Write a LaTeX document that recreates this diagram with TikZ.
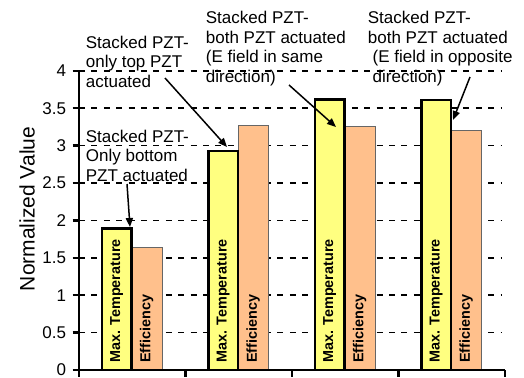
\documentclass[tikz,border=0pt]{standalone}
\usepackage{fontspec}
\setmainfont{Liberation Sans}
\usetikzlibrary{arrows.meta}

\definecolor{tempyellow}{RGB}{255,255,128}
\definecolor{efforange}{RGB}{255,192,140}

\begin{document}
\begin{tikzpicture}[
    x=0.5pt, y=0.5pt,
    >={Triangle[length=4.5pt,width=3.6pt]},
    gridline/.style={dash pattern=on 3pt off 3.2pt, line width=0.85pt},
    axisline/.style={line width=1.25pt},
    tempbar/.style={fill=tempyellow, draw=black, line width=1.3pt},
    effbar/.style={fill=efforange, draw=black!60, line width=0.5pt},
    barlabel/.style={rotate=90, anchor=west, inner sep=0pt, font=\fontsize{7.2}{8}\selectfont\bfseries},
    ticklabel/.style={anchor=east, inner sep=0pt, font=\fontsize{8.5}{10}\selectfont},
    note/.style={anchor=base west, inner sep=0pt, align=left, font=\fontsize{8.5}{9.75}\selectfont},
    pointer/.style={->, line width=0.75pt}
]
\useasboundingbox (0,0) rectangle (524,377);

% Diagrama: origen en (79,7), 1 unidad = 74.8 px en vertical
\begin{scope}[shift={(79,7)}, y=37.4pt]
% Rejilla
\foreach \v in {0.5,1,1.5,2,2.5,3,3.5,4}
  \draw[gridline] (0,\v) -- (423,\v);
% Barras: temperatura máx. y eficiencia por caso
\foreach \g/\t/\e in {0/1.89/1.64, 1/2.93/3.27, 2/3.62/3.25, 3/3.61/3.20} {
  \draw[effbar] ({106.5*\g+52.5},0) rectangle ({106.5*\g+83},\e);
  \draw[tempbar] ({106.5*\g+23},0) rectangle ({106.5*\g+52.5},\t);
  \node[barlabel] (temp\g) at ({106.5*\g+37.75},0.09) {Max. Temperature};
  \node[barlabel] (eff\g) at ({106.5*\g+67.75},0.09) {Efficiency};
}
% Ejes
\draw[axisline] (0,4) -- (0,0) -- (426,0);
\foreach \v [count=\i] in {0,0.5,1,1.5,2,2.5,3,3.5,4} {
  \draw[axisline] (-6.5,\v) -- (0,\v);
  \node[ticklabel] (ytick\i) at (-12.5,\v) {\v};
}
\foreach \c in {0,106.5,213,319.5,426}
  \draw[axisline] (\c,0) -- (\c,-0.094);
\end{scope}

\node[rotate=90, font=\fontsize{10.5}{12}\selectfont] (ylab) at (27,168) {Normalized Value};

% Anotaciones (ancladas en la línea base de la última fila)
\node[note] (notetop) at (85.5,290) {Stacked PZT-\\only top PZT\\actuated};
\node[note] (notebot) at (85.5,196) {Stacked PZT-\\Only bottom\\PZT actuated};
\node[note] (notesame) at (205.5,295) {Stacked PZT-\\both PZT actuated\\(E field in same\\direction)};
\node[note] (noteopp) at (367.5,295) {Stacked PZT-\\both PZT actuated\\\hspace{.28em}(E field in opposite\\\hspace{.28em}direction)};

% Flechas hacia las barras
\coordinate (fromtop) at (165,299);
\coordinate (tiptop) at (227,230);
\coordinate (frombot) at (127,193);
\coordinate (tipbot) at (130,150);
\coordinate (fromsame) at (289,292);
\coordinate (tipsame) at (336,250);
\coordinate (fromopp) at (470,300);
\coordinate (tipopp) at (453,257);
\draw[pointer] (fromtop) -- (tiptop);
\draw[pointer] (frombot) -- (tipbot);
\draw[pointer] (fromsame) -- (tipsame);
\draw[pointer] (fromopp) -- (tipopp);
\end{tikzpicture}
\end{document}
